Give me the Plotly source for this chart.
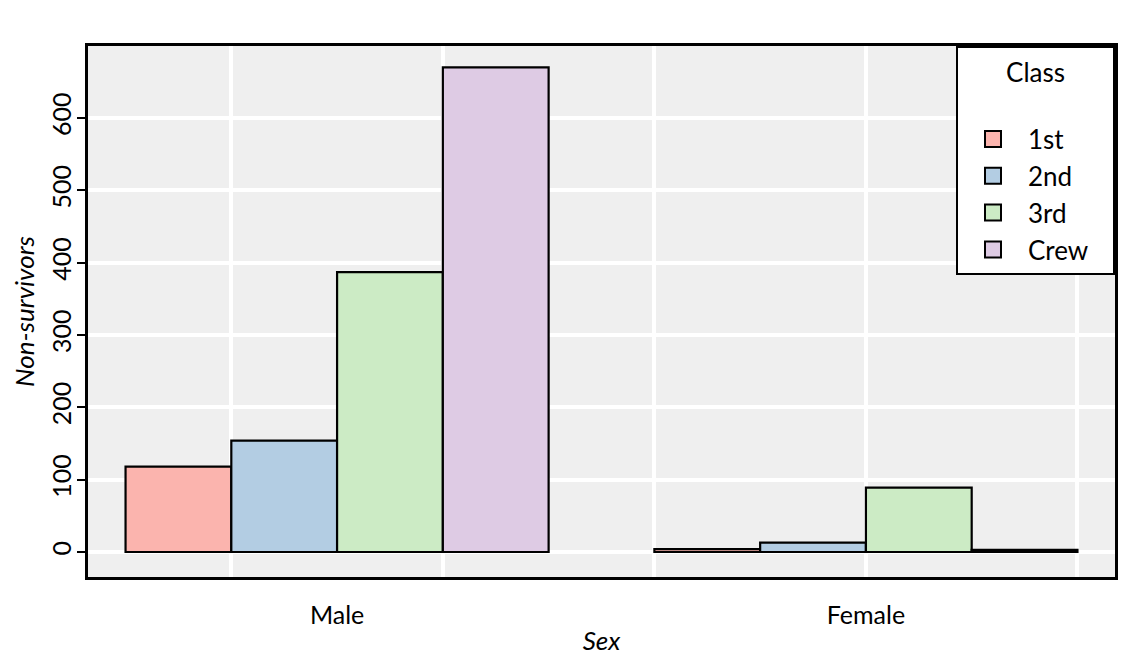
import plotly.graph_objects as go

sexes = ["Male", "Female"]
classes = ["1st", "2nd", "3rd", "Crew"]
non_survivors = {
    "1st": [118, 4],
    "2nd": [154, 13],
    "3rd": [387, 89],
    "Crew": [670, 3],
}
colors = {"1st": "#FBB4AE", "2nd": "#B3CDE3", "3rd": "#CCEBC5", "Crew": "#DECBE4"}
y_ticks = [0, 100, 200, 300, 400, 500, 600]

xpos = [1, 2]
FONT = "Lato"
NB = "\u00a0"

fig = go.Figure()
for c in classes:
    fig.add_trace(go.Bar(
        x=xpos, y=non_survivors[c], name=c, showlegend=False,
        marker=dict(color=colors[c], line=dict(color="black", width=2.2)),
    ))
# legend entries with larger square swatches
for c in classes:
    fig.add_trace(go.Scatter(
        x=[None], y=[None], mode="markers", name=c + NB * 3, legendgroup=c,
        marker=dict(symbol="square", size=20, color=colors[c],
                    line=dict(color="black", width=2)),
    ))

fig.update_layout(
    width=1140, height=665,
    margin=dict(l=88, r=25, t=46, b=88),
    paper_bgcolor="white", plot_bgcolor="#EFEFEF",
    barmode="group", bargap=0.2, bargroupgap=0,
    font=dict(family=FONT, size=26, color="black"),
    showlegend=True,
    legend=dict(
        x=1, y=1, xanchor="right", yanchor="top",
        bgcolor="white", bordercolor="black", borderwidth=2,
        title=dict(text="Class<br><span style='font-size:6px'> </span>",
                   side="top center", font=dict(size=26)),
        font=dict(size=26), tracegroupgap=6, itemwidth=60,
        traceorder="normal",
    ),
)
fig.update_xaxes(
    range=[0.529, 2.471],
    tickmode="array", tickvals=xpos, ticktext=sexes,
    showgrid=False, ticks="", ticklabelstandoff=14,
    minor=dict(tickmode="array", tickvals=[0.8, 1.2, 1.6, 2.0, 2.4],
               showgrid=True, gridcolor="white", gridwidth=3.5, ticks=""),
    showline=True, linecolor="black", linewidth=3, mirror=True,
    zeroline=False,
    title=dict(text="<i>Sex</i>", standoff=4, font=dict(size=26)),
    tickfont=dict(size=25),
)
fig.update_yaxes(
    range=[-34.6, 699.6],
    tickmode="array", tickvals=y_ticks,
    showgrid=True, gridcolor="white", gridwidth=3.5,
    ticks="outside", ticklen=8, tickwidth=2, tickcolor="black",
    tickangle=-90, ticklabelstandoff=-4,
    showline=True, linecolor="black", linewidth=3, mirror=True,
    zeroline=False,
    title=dict(text="<i>Non-survivors</i>", standoff=4, font=dict(size=26)),
    tickfont=dict(size=25),
)

fig.write_html("out.html")
